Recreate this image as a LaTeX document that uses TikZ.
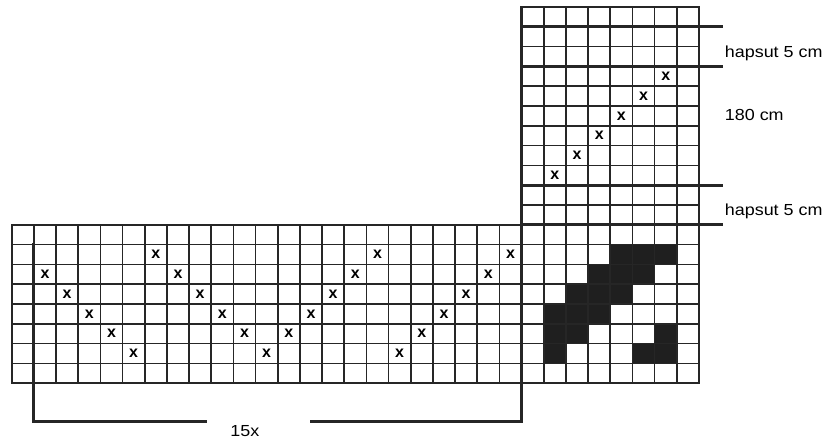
\documentclass[tikz,border=0pt]{standalone}
\usepackage{fontspec}
\setmainfont{Liberation Sans}

\begin{document}
\begin{tikzpicture}[x=11.085pt,y=9.9pt,
    gridline/.style={line width=.85pt,black!85,line cap=rect},
    markline/.style={line width=1.5pt,black!85,line cap=rect},
    cross/.style={font=\bfseries\fontsize{8}{8}\selectfont,inner sep=0pt},
    sidelabel/.style={anchor=west,font=\fontsize{8}{9.6}\selectfont,xscale=1.12,inner sep=0pt}]
    \useasboundingbox(-0.528,0.354)rectangle(36.865,-21.768);
    % dark cells of the small chart
    \foreach\c/\r in{5/2,6/2,7/2,4/3,5/3,6/3,3/4,4/4,5/4,2/5,3/5,4/5,2/6,3/6,7/6,2/7,6/7,7/7}
    \fill[black!88](22+\c,-10-\r)rectangle(23+\c,-11-\r);
    % grid
    \foreach\i in{0,...,22}\draw[gridline](\i,-11)--(\i,-19);
    \foreach\i in{23,...,31}\draw[gridline](\i,0)--(\i,-19);
    \foreach\j in{0,...,10}\draw[gridline](23,-\j)--(31,-\j);
    \foreach\j in{11,...,19}\draw[gridline](0,-\j)--(31,-\j);
    % crosses
    \foreach\c/\r in{2/3,3/4,4/5,5/6,6/7,7/2,8/3,9/4,10/5,11/6,12/7,13/6,14/5,15/4,16/3,17/2,18/7,19/6,20/5,21/4,22/3,23/2}
    \node[cross](xl-\c)at(\c-.5,-10.5-\r){x};
    \foreach\c/\r in{7/4,6/5,5/6,4/7,3/8,2/9}
    \node[cross](xr-\c)at(22.5+\c,.5-\r){x};
    % marks and labels
    \foreach\j in{1,3,9,11}\draw[markline](23,-\j)--(32,-\j);
    \node[sidelabel](hem1)at(32.15,-2.32){hapsut 5 cm};
    \node[sidelabel](len)at(32.15,-5.45){180 cm};
    \node[sidelabel](hem2)at(32.15,-10.3){hapsut 5 cm};
    \coordinate(brA)at(1,-12);
    \coordinate(brB)at(23,0);
    \coordinate(gapL)at(8.72,-20.94);
    \coordinate(gapR)at(13.53,-20.94);
    \node[font=\fontsize{8}{9.6}\selectfont,xscale=1.12,inner sep=0pt](reps)at(10.52,-21.4){15x};
    \draw[markline](brA)|-(gapL);
    \draw[markline](gapR)-|(brB);
\end{tikzpicture}
\end{document}
